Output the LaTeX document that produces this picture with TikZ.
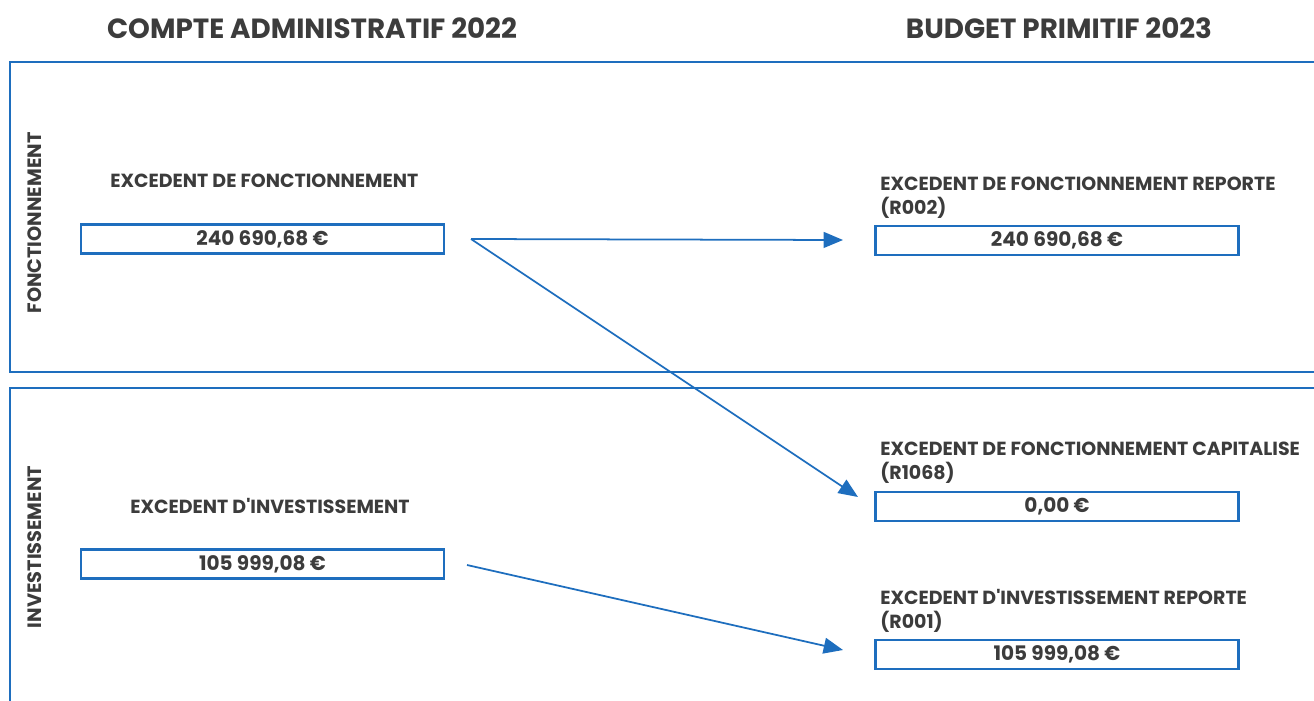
\documentclass[tikz,border=0pt]{standalone}
\usepackage{fontspec}
\setmainfont{Poppins}
\usetikzlibrary{arrows.meta, positioning}
\definecolor{cadrebleu}{RGB}{30,110,190}
\definecolor{textegris}{RGB}{60,60,60}

\begin{document}
\begin{tikzpicture}[x=0.02cm, y=-0.02cm,
	titre/.style={font=\bfseries\fontsize{15.8}{18}\selectfont, text=textegris},
	cote/.style={font=\bfseries\fontsize{11}{13}\selectfont, text=textegris, rotate=90},
	libelle/.style={font=\bfseries\fontsize{10.8}{13.5}\selectfont, text=textegris, anchor=west, inner sep=0pt, align=left},
	montant/.style={draw=cadrebleu, line width=1.2pt, minimum width=7.26cm, minimum height=0.58cm, inner sep=0pt, font=\bfseries\fontsize{11.4}{13}\selectfont, text=textegris},
	cadre/.style={draw=cadrebleu, line width=1.6pt},
	fleche/.style={draw=cadrebleu, line width=1pt, -{Triangle[length=11pt, width=9pt]}}]
		\useasboundingbox (0,0) rectangle (1314,700);
		\clip (0,0) rectangle (1314,700);
		
		% titres
		\node [titre] (ca) at (312,28) {COMPTE ADMINISTRATIF 2022};
		\node [titre] (bp) at (1059,28) {BUDGET PRIMITIF 2023};
		
		% cadres
		\draw [cadre] (1330,62) -- (10,62) -- (10,372) -- (1330,372);
		\draw [cadre] (1330,388) -- (10,388) -- (10,720);
		\node [cote] (fonct) at (35,223) {FONCTIONNEMENT};
		\node [cote] (invest) at (35,547) {INVESTISSEMENT};
		
		% compte administratif
		\node [libelle] (lfonct) at (110,181) {EXCEDENT DE FONCTIONNEMENT};
		\node [montant] (mfonct) at (262.5,239) {240 690,68 €};
		\node [libelle] (linvest) at (130,506) {EXCEDENT D\textquotesingle INVESTISSEMENT};
		\node [montant] (minvest) at (262.5,564) {105 999,08 €};
		
		% budget primitif
		\node [libelle] (lreport) at (880,198) {EXCEDENT DE FONCTIONNEMENT REPORTE\\(R002)};
		\node [montant] (mreport) at (1057,240.5) {240 690,68 €};
		\node [libelle] (lcapit) at (880,463) {EXCEDENT DE FONCTIONNEMENT CAPITALISE\\(R1068)};
		\node [montant] (mcapit) at (1057,506.5) {0,00 €};
		\node [libelle] (linvrep) at (880,611) {EXCEDENT D\textquotesingle INVESTISSEMENT REPORTE\\(R001)};
		\node [montant] (minvrep) at (1057,654.5) {105 999,08 €};
		
		% fleches
		\coordinate (dfonct) at (471,239);
		\coordinate (dinvest) at (467,565);
		\coordinate (areport) at (843,240);
		\coordinate (acapit) at (858,497);
		\coordinate (ainvrep) at (843,650);
		\draw [fleche] (dfonct) -- (areport);
		\draw [fleche] (dfonct) -- (acapit);
		\draw [fleche] (dinvest) -- (ainvrep);
	\end{tikzpicture}
\end{document}
